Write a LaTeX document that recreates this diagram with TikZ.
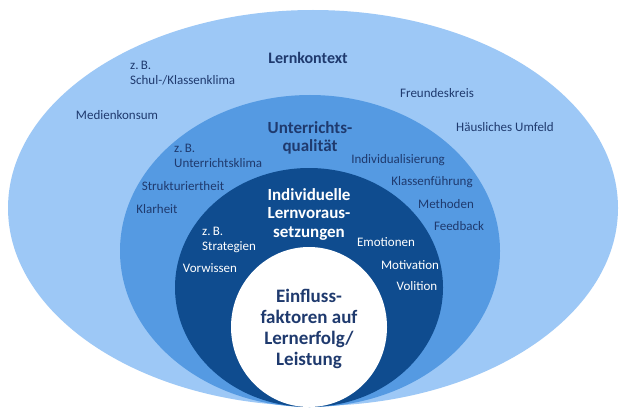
\documentclass[tikz,border=0pt]{standalone}
\usepackage{fontspec}
\setmainfont{Carlito}
\definecolor{c1}{HTML}{9DC8F6}
\definecolor{c2}{HTML}{559AE2}
\definecolor{c3}{HTML}{0F4C8F}
\definecolor{navy}{HTML}{1F3A6E}
\begin{document}
\begin{tikzpicture}[x=1pt,y=-1pt,
  lbl/.style={font=\fontsize{13}{14.5}\selectfont,text=navy,inner sep=0pt},
  wl/.style={lbl,text=white},
  ttl/.style={font=\fontsize{17}{18.5}\selectfont\bfseries,text=navy,align=center,inner sep=0pt},
  wttl/.style={ttl,text=white},
  ring/.style={draw=none}]
\useasboundingbox (0,0) rectangle (620,417);
\fill[white] (0,0) rectangle (620,417);
\path[ring,fill=c1] (313,208) ellipse [x radius=305,y radius=198];
\path[ring,fill=c2] (310,251) ellipse [x radius=190,y radius=156];
\path[ring,fill=c3] (309,287.5) ellipse [x radius=134,y radius=119.5];
\path[ring,fill=white] (309,327) ellipse [x radius=78,y radius=80];
\node[ttl,font=\fontsize{16}{17}\selectfont\bfseries] (lk) at (308,58) {Lernkontext};
\node[lbl,anchor=west,align=left] (sk) at (130,73) {z.\,B.\\Schul-/Klassenklima};
\node[lbl] (mk) at (117,115) {Medienkonsum};
\node[lbl] (fk) at (437,93) {Freundeskreis};
\node[lbl] (hu) at (505,127) {Häusliches Umfeld};
\node[ttl] (uq) at (310,138) {Unterrichts-\\qualität};
\node[lbl,anchor=west,align=left] (uk) at (174,156) {z.\,B.\\Unterrichtsklima};
\node[lbl] (st) at (183,186) {Strukturiertheit};
\node[lbl] (kl) at (157,209) {Klarheit};
\node[lbl] (iv) at (398,160) {Individualisierung};
\node[lbl] (kf) at (432,182) {Klassenführung};
\node[lbl] (me) at (446,204) {Methoden};
\node[lbl] (fb) at (459,226) {Feedback};
\node[wttl] (il) at (309,214) {Individuelle\\Lernvoraus-\\setzungen};
\node[wl,anchor=west,align=left] (sg) at (202,240) {z.\,B.\\Strategien};
\node[wl] (vw) at (210,268) {Vorwissen};
\node[wl] (em) at (386,242) {Emotionen};
\node[wl] (mo) at (410,265) {Motivation};
\node[wl] (vo) at (417,286) {Volition};
\node[ttl,font=\fontsize{19}{21}\selectfont\bfseries] (ef) at (309,329) {Einfluss-\\faktoren auf\\Lernerfolg/\\Leistung};
\end{tikzpicture}
\end{document}
